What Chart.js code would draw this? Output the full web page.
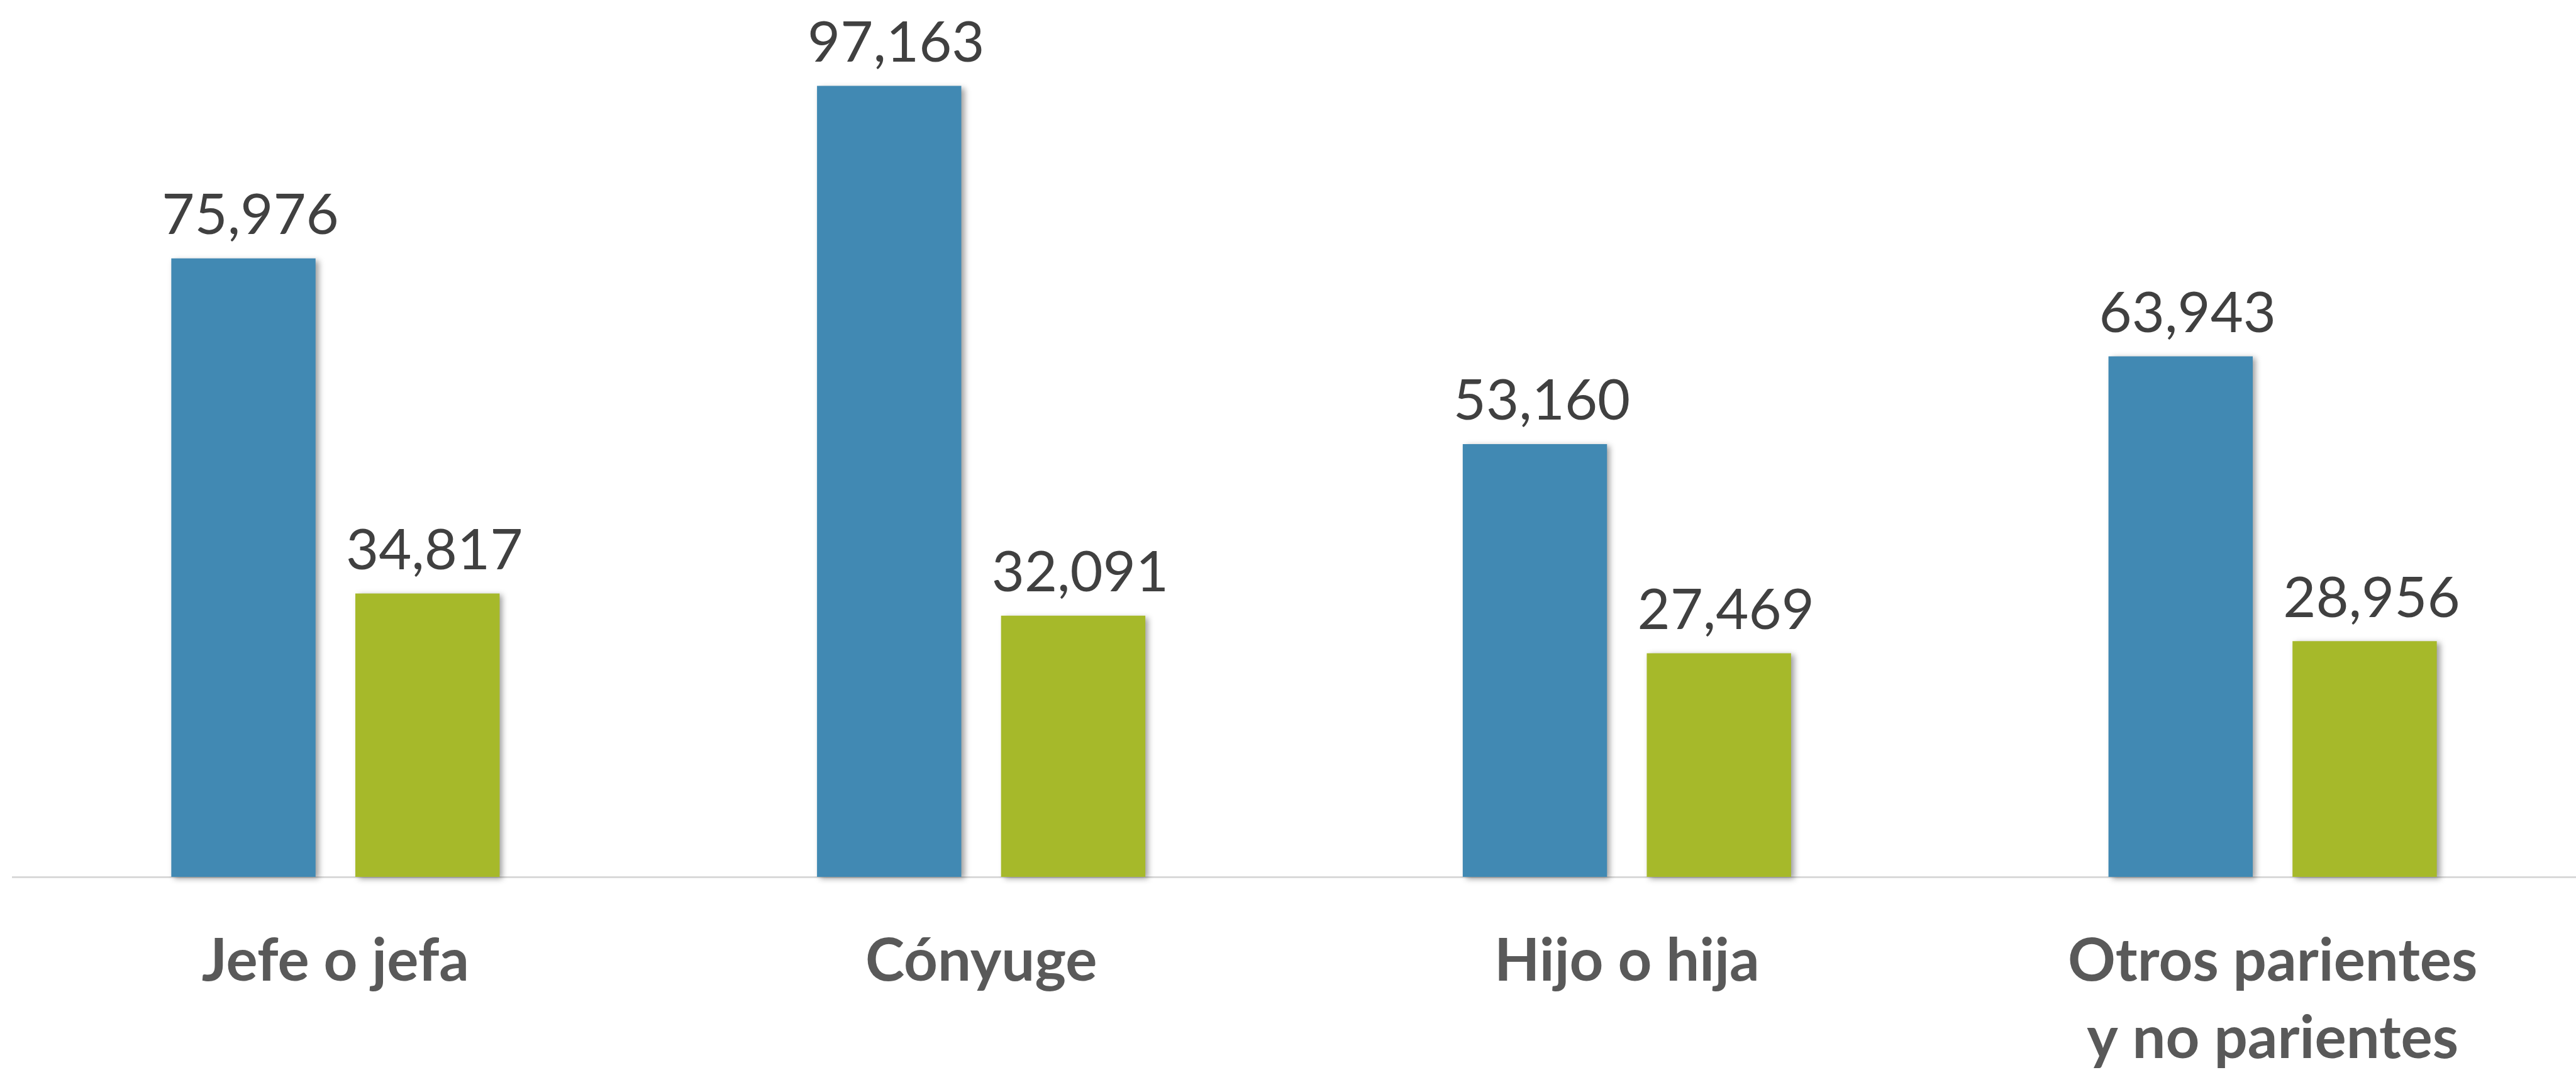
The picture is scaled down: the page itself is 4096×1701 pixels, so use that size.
<!DOCTYPE html>
<html>
<head>
<meta charset="utf-8">
<script src="https://cdn.jsdelivr.net/npm/chart.js@4.4.1/dist/chart.umd.min.js"></script>
<style>
  html, body { margin: 0; padding: 0; background: #ffffff; overflow: hidden; width: 4096px; height: 1701px; }
  #wrap { position: absolute; left: 0; top: 0; width: 4127px; height: 1701px; }
</style>
</head>
<body>
<div id="wrap"><canvas id="c" width="4127" height="1701"></canvas></div>
<script>
// ---- data ----
const categories = ['Jefe o jefa', 'Cónyuge', 'Hijo o hija', ['Otros parientes', 'y no parientes']];
const seriesNames = ['Serie 1', 'Serie 2'];
const seriesBlue = [75976, 97163, 53160, 63943];
const seriesGreen = [34817, 32091, 27469, 28956];
const yRange = [0, 100000];

const fmt = v => v.toLocaleString('en-US');

const barStyle = {
  id: 'barStyle',
  beforeDatasetsDraw(chart) {
    const ctx = chart.ctx;
    ctx.save();
    ctx.shadowColor = 'rgba(0,0,0,0.38)';
    ctx.shadowBlur = 9;
    ctx.shadowOffsetX = 5;
    ctx.shadowOffsetY = 3;
  },
  afterDatasetsDraw(chart) {
    const ctx = chart.ctx;
    ctx.restore();
    ctx.save();
    ctx.font = '90px Lato';
    ctx.fillStyle = '#404040';
    ctx.textAlign = 'center';
    ctx.textBaseline = 'alphabetic';
    chart.data.datasets.forEach((ds, i) => {
      chart.getDatasetMeta(i).data.forEach((bar, j) => {
        ctx.fillText(fmt(ds.data[j]), bar.x + 11, bar.y - 38.6);
      });
    });
    ctx.restore();
  }
};

new Chart(document.getElementById('c'), {
  type: 'bar',
  data: {
    labels: categories,
    datasets: [
      { label: seriesNames[0], data: seriesBlue, backgroundColor: '#4189B3',
        categoryPercentage: 0.57, barPercentage: 0.784, clip: false },
      { label: seriesNames[1], data: seriesGreen, backgroundColor: '#A6B92A',
        categoryPercentage: 0.57, barPercentage: 0.784, clip: false }
    ]
  },
  options: {
    responsive: false,
    animation: false,
    devicePixelRatio: 1,
    layout: { padding: { left: 20, top: 99.8, right: 0, bottom: 0 } },
    plugins: { legend: { display: false }, tooltip: { enabled: false } },
    scales: {
      x: {
        grid: { display: false, drawTicks: false },
        border: { display: true, color: '#d9d9d9', width: 3 },
        ticks: {
          font: { family: 'Lato', weight: 'bold', size: 94, lineHeight: 1.31 },
          color: '#595959', padding: 73, maxRotation: 0, autoSkip: false
        },
        afterFit(scale) { scale.height = 307; }
      },
      y: { display: false, min: yRange[0], max: yRange[1] }
    }
  },
  plugins: [barStyle]
});
</script>
</body>
</html>
